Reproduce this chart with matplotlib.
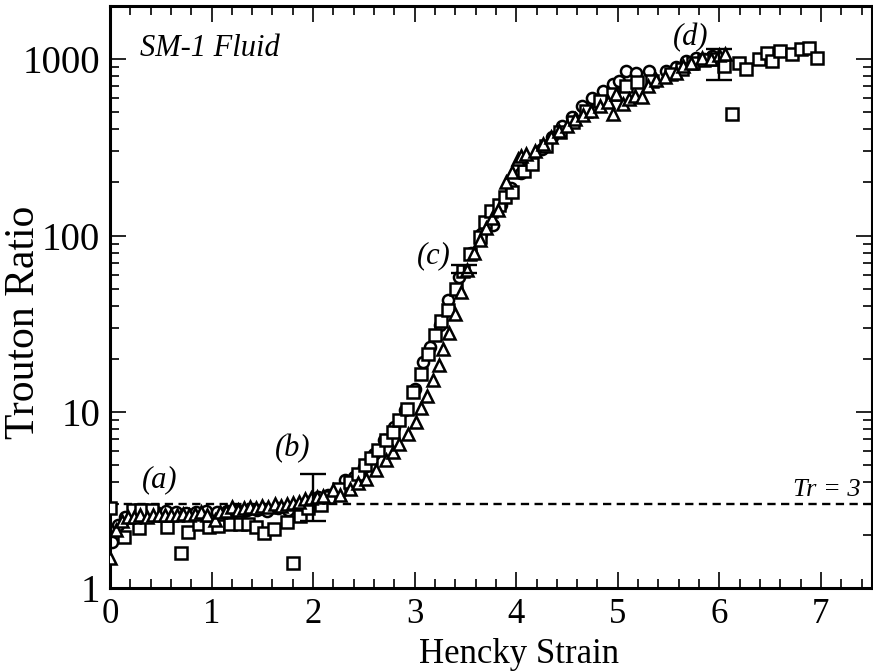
import matplotlib
matplotlib.use("Agg")
import matplotlib.pyplot as plt
from matplotlib.ticker import FixedLocator, NullFormatter, LogLocator, MultipleLocator

# Hencky strain / Trouton ratio data for the three runs
sq_x = [0.00, 0.14, 0.23, 0.29, 0.31, 0.41, 0.56, 0.70, 0.77, 0.88, 0.97, 1.06, 1.18,
        1.28, 1.36, 1.44, 1.52, 1.61, 1.74, 1.80, 1.87, 1.95, 2.08, 2.16, 2.25, 2.36,
        2.44, 2.51, 2.57, 2.64, 2.72, 2.79, 2.85, 2.92, 2.98, 3.06, 3.13, 3.20, 3.26,
        3.33, 3.41, 3.48, 3.54, 3.64, 3.69, 3.75, 3.83, 3.89, 3.96, 4.08, 4.16, 4.29,
        4.43, 4.56, 4.69, 4.82, 4.95, 5.08, 5.19, 5.34, 5.52, 5.63, 5.74, 5.85, 5.95,
        6.05, 6.12, 6.19, 6.26, 6.39, 6.47, 6.52, 6.60, 6.72, 6.80, 6.88, 6.96]
sq_y = [2.85, 1.96, 2.78, 2.19, 2.78, 2.80, 2.24, 1.58, 2.09, 2.33, 2.24, 2.25, 2.33,
        2.33, 2.33, 2.24, 2.05, 2.16, 2.38, 1.40, 2.57, 2.87, 2.96, 3.30, 3.68, 4.02,
        4.48, 5.00, 5.50, 6.07, 6.92, 7.71, 9.00, 10.4, 13.0, 16.5, 21.4, 27.2, 32.7,
        38.0, 50.0, 63.0, 79.0, 98.0, 119, 138, 150, 165, 176, 233, 255, 323,
        385, 438, 510, 580, 634, 706, 738, 754, 822, 880, 957, 990, 1000,
        917, 488, 957, 878, 1000, 1089, 977, 1112, 1067, 1140, 1164, 1010]

ci_x = [0.02, 0.08, 0.15, 0.25, 0.35, 0.45, 0.55, 0.65, 0.75, 0.85, 0.95, 1.05, 1.15,
        1.25, 1.35, 1.45, 1.55, 1.65, 1.75, 1.85, 1.95, 2.05, 2.15, 2.31, 2.40, 2.50,
        2.60, 2.70, 2.80, 2.90, 3.00, 3.08, 3.15, 3.25, 3.33, 3.44, 3.55, 3.65, 3.77,
        3.85, 3.95, 4.05, 4.15, 4.25, 4.35, 4.45, 4.55, 4.65, 4.75, 4.85, 4.95, 5.01,
        5.08, 5.18, 5.31, 5.47, 5.57, 5.67, 5.77, 5.85, 5.93]
ci_y = [1.84, 2.30, 2.55, 2.65, 2.70, 2.72, 2.75, 2.70, 2.68, 2.72, 2.75, 2.72, 2.75,
        2.80, 2.78, 2.80, 2.75, 2.85, 2.80, 2.95, 3.10, 3.30, 3.40, 4.10, 4.30, 4.90,
        5.80, 6.90, 8.20, 10.3, 13.5, 19.2, 23.3, 31.0, 43.0, 58.0, 80.0, 102, 115,
        150, 185, 225, 265, 310, 360, 420, 470, 540, 600, 660, 720, 754,
        859, 840, 859, 859, 900, 977, 1021, 1000, 1044]

tr_x = [0.00, 0.06, 0.12, 0.18, 0.24, 0.30, 0.36, 0.42, 0.48, 0.54, 0.60, 0.66, 0.72,
        0.78, 0.84, 0.90, 0.96, 1.03, 1.08, 1.14, 1.20, 1.26, 1.32, 1.38, 1.44, 1.50,
        1.56, 1.62, 1.68, 1.74, 1.80, 1.86, 1.92, 1.98, 2.04, 2.10, 2.20, 2.26, 2.36,
        2.44, 2.52, 2.62, 2.72, 2.79, 2.85, 2.93, 3.01, 3.06, 3.12, 3.18, 3.24, 3.28,
        3.34, 3.40, 3.46, 3.52, 3.58, 3.64, 3.70, 3.76, 3.82, 3.90, 3.96, 4.02, 4.05,
        4.10, 4.18, 4.26, 4.34, 4.42, 4.50, 4.58, 4.66, 4.74, 4.82, 4.90, 4.95, 4.98,
        5.05, 5.11, 5.17, 5.24, 5.30, 5.38, 5.46, 5.57, 5.64, 5.72, 5.83, 5.92, 6.00,
        6.06]
tr_y = [1.49, 2.14, 2.40, 2.55, 2.55, 2.60, 2.55, 2.60, 2.62, 2.60, 2.62, 2.60, 2.65,
        2.62, 2.65, 2.70, 2.60, 2.44, 2.70, 2.75, 2.90, 2.80, 2.85, 2.90, 2.85, 2.95,
        2.90, 3.00, 2.95, 3.00, 3.05, 3.10, 3.20, 3.25, 3.30, 3.35, 3.60, 3.38, 3.68,
        3.95, 4.20, 4.68, 5.33, 5.94, 6.62, 7.55, 8.78, 10.5, 12.3, 15.1, 18.5, 22.8,
        28.0, 36.0, 48.0, 64.0, 80.0, 95.0, 110, 125, 140, 200, 230, 270, 284,
        290, 300, 330, 360, 390, 420, 455, 480, 510, 540, 570, 488, 634,
        560, 594, 620, 607, 700, 760, 790, 840, 917, 950, 1021, 1000, 1050,
        1067]

# representative error bars
err_x = [2.0, 3.49, 6.0]
err_y = [3.3, 65.0, 950.0]
err_lo = [0.88, 3.5, 190.0]
err_hi = [1.18, 3.5, 190.0]

x_ticks = [0, 1, 2, 3, 4, 5, 6, 7]
y_ticks = [1, 10, 100, 1000]
y_tick_labels = ["1", "10", "100", "1000"]

plt.rcParams["font.family"] = ["Liberation Serif", "DejaVu Serif"]

fig = plt.figure(figsize=(8.73, 6.71), dpi=100)
ax = fig.add_axes([0.126, 0.123, 0.8725, 0.868])

mk = dict(linestyle="none", markerfacecolor="white", markeredgecolor="black",
          markeredgewidth=1.8)
ax.plot(sq_x, sq_y, marker="s", markersize=8, zorder=3, **mk)
ax.plot(ci_x, ci_y, marker="o", markersize=8, zorder=2, **mk)
ax.plot(tr_x, tr_y, marker="^", markersize=8.5, zorder=4, **mk)

ax.errorbar(err_x, err_y, yerr=[err_lo, err_hi], fmt="none", ecolor="black",
            elinewidth=1.7, capsize=9.5, capthick=1.7, zorder=5)

ax.axhline(3, color="black", linestyle=(0, (3.5, 2.3)), linewidth=1.7, zorder=1)

ax.set_yscale("log")
ax.set_xlim(0, 7.5)
ax.set_ylim(1, 2000)

ax.xaxis.set_major_locator(FixedLocator(x_ticks))
ax.xaxis.set_minor_locator(MultipleLocator(0.2))
ax.yaxis.set_major_locator(FixedLocator(y_ticks))
ax.yaxis.set_minor_locator(LogLocator(base=10, subs=range(2, 10)))
ax.yaxis.set_minor_formatter(NullFormatter())
ax.set_yticklabels(y_tick_labels)
ax.set_xticklabels([str(v) for v in x_ticks])

ax.tick_params(which="both", direction="in", top=True, right=True, width=1.2,
               colors="black")
ax.tick_params(which="major", length=11.5)
ax.tick_params(which="minor", length=6.5)
ax.tick_params(axis="x", which="major", labelsize=25, pad=7)
ax.tick_params(axis="y", which="major", labelsize=28, pad=7)
for s in ax.spines.values():
    s.set_linewidth(2.2)

fig.text(519 / 873, (671 - 663) / 671, "Hencky Strain", fontsize=25,
         ha="center", va="baseline")
fig.text(24 / 873, 1 - 322 / 671, "Trouton Ratio", fontsize=30, rotation=90,
         ha="center", va="center")

ax.text(0.295, 1044, "SM-1 Fluid", fontsize=22, style="italic", ha="left", va="baseline")
ax.text(0.49, 4.11, "(a)", fontsize=22, style="italic", ha="center", va="center")
ax.text(1.80, 6.2, "(b)", fontsize=22, style="italic", ha="center", va="center")
ax.text(3.19, 77, "(c)", fontsize=22, style="italic", ha="center", va="center")
ax.text(5.72, 1328, "(d)", fontsize=22, style="italic", ha="center", va="center")
ax.text(7.39, 3.6, "Tr = 3", fontsize=19, style="italic", ha="right", va="center")

fig.savefig("out.png", dpi=100)
